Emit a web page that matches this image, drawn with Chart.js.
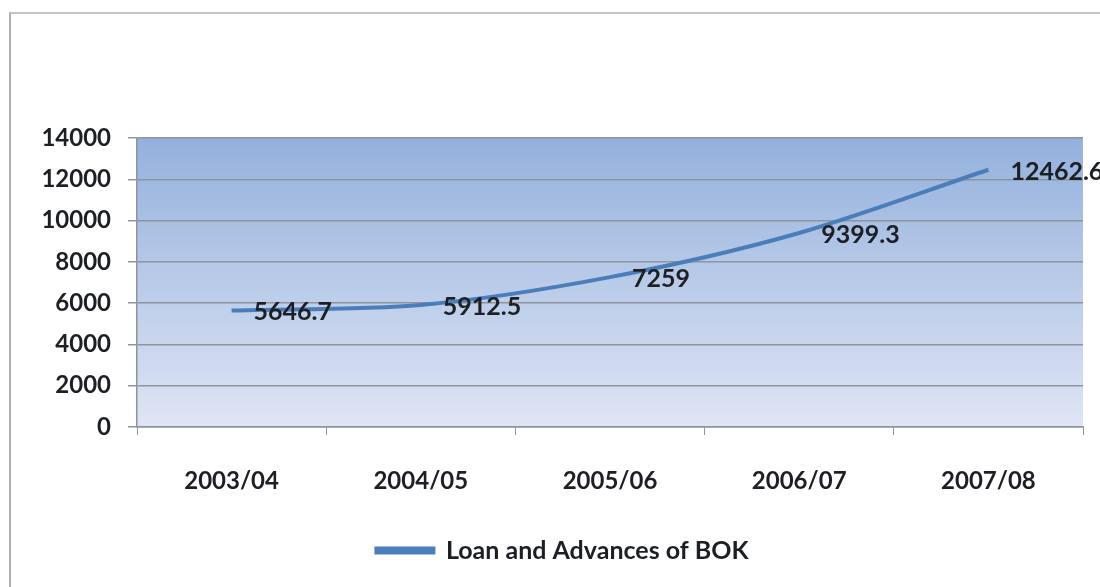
<!DOCTYPE html>
<html>
<head>
<meta charset="utf-8">
<script src="https://cdn.jsdelivr.net/npm/chart.js@4.4.1/dist/chart.umd.min.js"></script>
<style>
  html,body{margin:0;padding:0;background:#fff;overflow:hidden}
  #frame{position:absolute;left:9px;top:12px;width:1200px;height:700px;border-left:2px solid #b0b0b0;border-top:2px solid #c4c4c4}
  #wrap{position:absolute;left:0;top:0;width:1100px;height:587px}
</style>
</head>
<body>
<div id="frame"></div>
<div id="wrap"><canvas id="c"></canvas></div>
<script>
// Loan and Advances of BOK, by fiscal year
const YEARS = ["2003/04","2004/05","2005/06","2006/07","2007/08"];
const LOANS = [5646.7, 5912.5, 7259, 9399.3, 12462.6];
const Y_TICKS = [0,2000,4000,6000,8000,10000,12000,14000];

const FONT = "Lato, 'Open Sans', sans-serif";
const TEXT = "#1c1f24";
const LINE_COLOR = "#4a7ebb";
const GRID = "#8e949c";

// blue gradient behind the plot area
const plotBg = {
  id:"plotBg",
  beforeDraw(chart){
    const {ctx, chartArea:a} = chart;
    const g = ctx.createLinearGradient(0,a.top,0,a.bottom);
    g.addColorStop(0,"#94b1dd");
    g.addColorStop(1,"#dfe5f4");
    ctx.save(); ctx.fillStyle=g; ctx.fillRect(a.left,a.top,a.right-a.left,a.bottom-a.top); ctx.restore();
  }
};

// value labels to the right of each point
const valueLabels = {
  id:"valueLabels",
  afterDatasetsDraw(chart){
    const ctx = chart.ctx, meta = chart.getDatasetMeta(0);
    ctx.save();
    ctx.font = "bold 25px "+FONT;
    ctx.fillStyle = TEXT;
    ctx.textAlign = "left"; ctx.textBaseline = "middle";
    meta.data.forEach((pt,i)=>{ ctx.fillText(String(LOANS[i]), pt.x+22, pt.y+2); });
    ctx.restore();
  }
};

new Chart(document.getElementById("c"),{
  type:"line",
  data:{labels:YEARS,datasets:[{
    label:"Loan and Advances of BOK",
    data:LOANS,
    borderColor:LINE_COLOR,
    backgroundColor:LINE_COLOR,
    borderWidth:4,
    tension:0.3,
    pointRadius:0,
    fill:false
  }]},
  options:{
    responsive:true, maintainAspectRatio:false, animation:false,
    layout:{padding:{left:42,right:17,top:138,bottom:14}},
    plugins:{
      tooltip:{enabled:false},
      legend:{position:"bottom",labels:{boxWidth:57,boxHeight:4,padding:10,color:TEXT,font:{family:FONT,size:25,weight:"bold"}}}
    },
    scales:{
      x:{
        offset:true,
        grid:{offset:true,drawOnChartArea:false,drawTicks:true,tickLength:8,color:GRID},
        border:{color:GRID,width:1.5},
        ticks:{padding:32,color:TEXT,font:{family:FONT,size:24,weight:"bold"}},
        afterFit(s){ s.height=101; }
      },
      y:{
        min:0,max:14000,
        afterBuildTicks(s){ s.ticks = Y_TICKS.map(v=>({value:v})); },
        grid:{color:GRID,lineWidth:1.5,tickLength:9},
        border:{color:GRID,width:1.5},
        ticks:{padding:17,color:TEXT,font:{family:FONT,size:24,weight:"bold"},callback:v=>String(v)},
        afterFit(s){ s.width=95; }
      }
    }
  },
  plugins:[plotBg,valueLabels]
});
</script>
</body>
</html>
